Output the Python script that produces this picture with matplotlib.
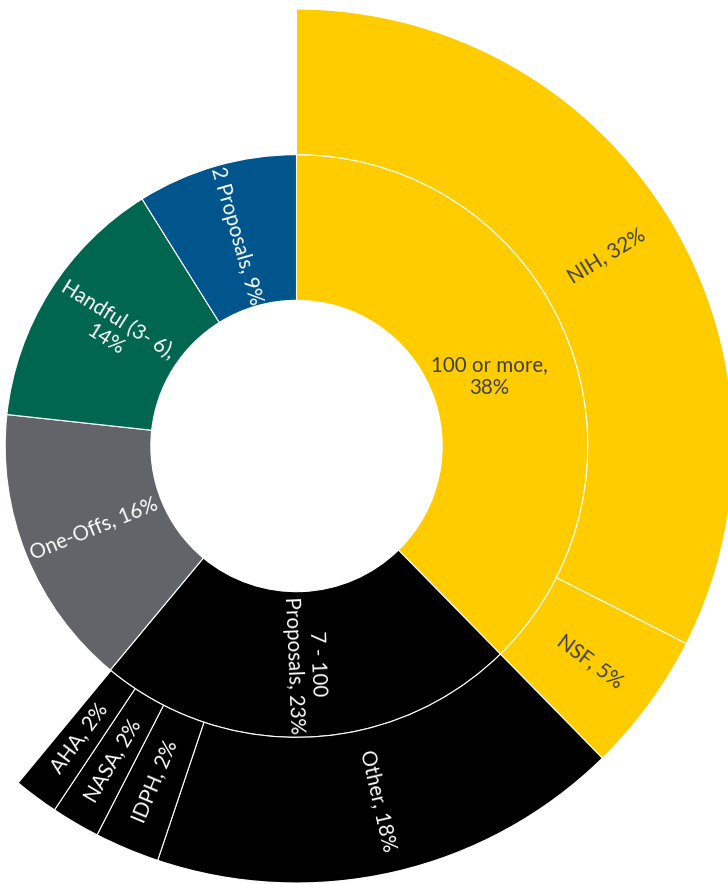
import numpy as np
import matplotlib
matplotlib.use("Agg")
import matplotlib.pyplot as plt

# ---- data ----
inner_labels = ["100 or more,\n38%", "7 - 100\nProposals, 23%", "One-Offs, 16%",
                "Handful (3- 6),\n14%", "2 Proposals, 9%"]
inner_values = [37.7, 23.4, 15.7, 14.4, 8.9]
inner_colors = ["#FFCC00", "#000000", "#626469", "#00664F", "#00558C"]

outer_labels = ["NIH, 32%", "NSF, 5%", "Other, 18%", "IDPH, 2%", "NASA, 2%", "AHA, 2%"]
outer_values = [32.5, 5.2, 17.5, 2.4, 1.8, 1.65]
outer_colors = ["#FFCC00", "#FFCC00", "#000000", "#000000", "#000000", "#000000"]

plt.rcParams["font.family"] = ["Lato", "DejaVu Sans"]

W, H = 728, 884
fig = plt.figure(figsize=(W / 100, H / 100), dpi=100)
ax = fig.add_axes([0, 0, 1, 1])

total = sum(inner_values)
blank = total - sum(outer_values)

R = 1.0
ring = R / 3.0
wp = dict(width=ring, edgecolor="white", linewidth=0.8)

inner_w, _ = ax.pie(inner_values, radius=2 * ring, colors=inner_colors,
                    startangle=90, counterclock=False, wedgeprops=wp)
outer_w, _ = ax.pie(outer_values + [blank], radius=R, colors=outer_colors + ["white"],
                    startangle=90, counterclock=False, wedgeprops=wp)
outer_w[-1].set_visible(False)


def place_labels(values, labels, colors, r_mid, horizontal_first=False, rfirst=None):
    cum = np.concatenate([[0], np.cumsum(values)]) / total * 360.0
    for i, lab in enumerate(labels):
        theta = (cum[i] + cum[i + 1]) / 2.0  # clockwise from top
        r = r_mid
        if horizontal_first and i == 0 and rfirst is not None:
            r = rfirst
            theta += 2.5
        ang = np.deg2rad(90 - theta)
        x, y = r * np.cos(ang), r * np.sin(ang)
        rot = 90 - theta
        while rot > 90:
            rot -= 180
        while rot <= -90:
            rot += 180
        if horizontal_first and i == 0:
            rot = 0
        tc = "#404040" if colors[i].upper() == "#FFCC00" else "white"
        ax.text(x, y, lab, ha="center", va="center", rotation=rot,
                rotation_mode="anchor", fontsize=14.8, color=tc,
                linespacing=1.2, multialignment="center")


place_labels(inner_values, inner_labels, inner_colors, 1.5 * ring,
             horizontal_first=True, rfirst=205 / 437)
place_labels(outer_values, outer_labels, outer_colors, 2.5 * ring)

cx, cy, rpx = 296.5, 446.0, 437.0
ax.set_xlim(-cx / rpx, (W - cx) / rpx)
ax.set_ylim(-(H - cy) / rpx, cy / rpx)
ax.set_aspect("auto")
ax.axis("off")

fig.savefig("out.png", dpi=100, facecolor="white")
